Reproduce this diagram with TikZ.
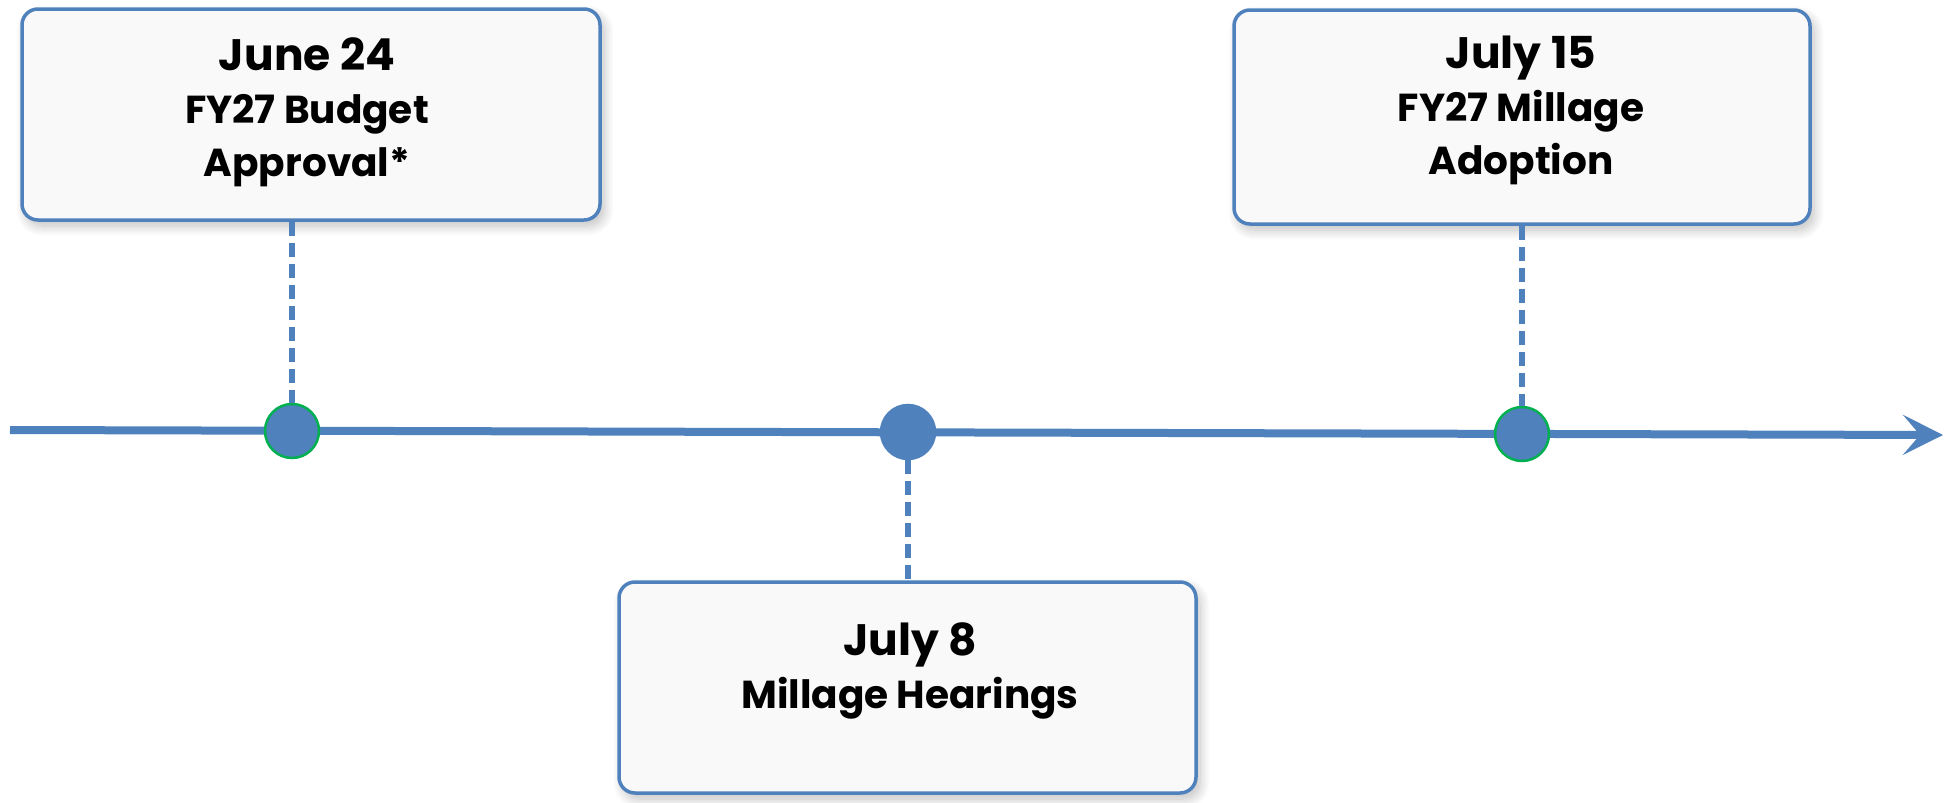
\documentclass[tikz,border=0pt]{standalone}
\usepackage{fontspec}
\setmainfont{Poppins}
\usetikzlibrary{arrows.meta,shadows.blur}
\definecolor{tlblue}{HTML}{4F81BD}
\definecolor{tlgreen}{HTML}{00B050}
\definecolor{boxfill}{HTML}{F9F9F9}
\begin{document}
\begin{tikzpicture}[x=1pt,y=-1pt,
  eventbox/.style={draw=tlblue, line width=3.5pt, rounded corners=16pt, fill=boxfill,
    blur shadow={shadow xshift=4pt, shadow yshift=-6pt, shadow opacity=25, shadow blur steps=12, shadow blur radius=10pt},
    inner sep=0pt},
  eventtext/.style={align=center, inner sep=0pt, font=\bfseries\fontsize{39}{53}\selectfont},
  milestone/.style={circle, fill=tlblue, inner sep=0pt, minimum size=54pt},
  keydate/.style={milestone, draw=tlgreen, line width=2.5pt},
  plaindate/.style={milestone, draw=tlblue, line width=2.5pt},
  leader/.style={draw=tlblue, line width=5.5pt, dash pattern=on 14pt off 7pt},
  axis/.style={draw=tlblue, line width=8pt, -{Stealth[length=40pt,width=40pt,inset=17pt]}}
]
\useasboundingbox (0,0) rectangle (1949,803);

% time axis
\coordinate (tstart) at (10,430);
\coordinate (tend) at (1943,435);
\path[axis] (tstart) -- (tend);

% milestones on the axis
\node[keydate]   (c1) at (292,431) {};
\node[plaindate] (c2) at (908,432) {};
\node[keydate]   (c3) at (1522,434) {};

% event boxes
\node[eventbox, minimum width=578pt, minimum height=211pt] (b1) at (311,114.5) {};
\node[eventbox, minimum width=576pt, minimum height=214pt] (b3) at (1522,117) {};
\node[eventbox, minimum width=577pt, minimum height=211pt] (b2) at (907.5,687.5) {};

\node[eventtext] (t1) at (307,112) {{\fontsize{44}{53}\selectfont June 24}\\FY27 Budget\\Approval*};
\node[eventtext] (t3) at (1521,110) {{\fontsize{44}{53}\selectfont July 15}\\FY27 Millage\\Adoption};
\node[eventtext] (t2) at (910,671) {{\fontsize{44}{53}\selectfont July 8}\\Millage Hearings};

% leaders from boxes to milestones
\path[leader] (b1.south -| c1) -- (c1.north);
\path[leader] (b3.south -| c3) -- (c3.north);
\path[leader] (c2.south) -- (b2.north -| c2);
\end{tikzpicture}
\end{document}
